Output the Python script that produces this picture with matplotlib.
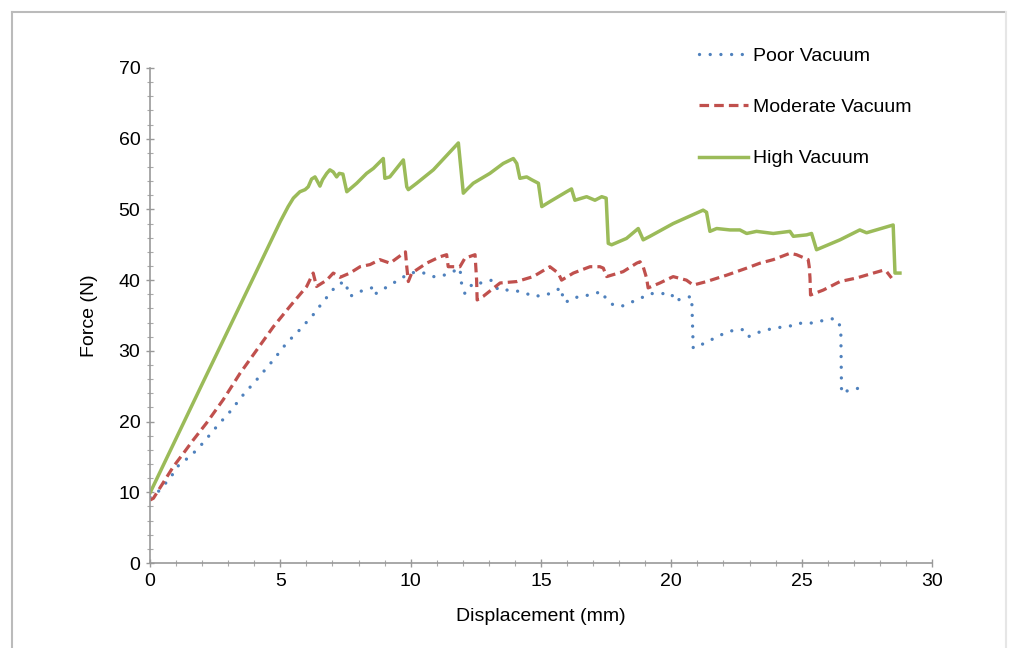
import matplotlib
matplotlib.use("Agg")
import matplotlib.pyplot as plt
from matplotlib.lines import Line2D
from matplotlib.ticker import MultipleLocator

# ---------------- data ----------------
high_x = [0, 2.0, 4.0, 5.0, 5.3, 5.5, 5.75, 5.95, 6.07, 6.2, 6.33, 6.39, 6.52, 6.62, 6.78, 6.9,
          7.03, 7.16, 7.26, 7.4, 7.55, 7.93, 8.31, 8.57, 8.95, 9.01, 9.2, 9.72, 9.85, 9.91,
          10.23, 10.87, 11.83, 12.02, 12.15, 12.4, 13.04, 13.55, 13.94, 14.07, 14.19, 14.45,
          14.64, 14.9, 15.03, 15.34, 15.98, 16.17, 16.3, 16.75, 17.07, 17.33, 17.5, 17.58,
          17.71, 18.28, 18.73, 18.92, 19.18, 20.07, 21.22, 21.35, 21.48, 21.74, 22.25, 22.63,
          22.89, 23.27, 23.91, 24.55, 24.68, 25.19, 25.38, 25.57, 26.47, 27.23, 27.49, 28.51,
          28.58, 28.77]
high_y = [9.9, 25.3, 40.6, 48.3, 50.4, 51.6, 52.5, 52.8, 53.2, 54.3, 54.6, 54.2, 53.3, 54.2, 55.1, 55.6,
          55.3, 54.6, 55.1, 55.0, 52.5, 53.7, 55.1, 55.8, 57.2, 54.4, 54.6, 57.0, 53.2, 52.8,
          53.7, 55.6, 59.4, 52.3, 52.8, 53.7, 55.1, 56.5, 57.2, 56.5, 54.4, 54.6,
          54.2, 53.7, 50.4, 51.1, 52.5, 52.9, 51.3, 51.8, 51.3, 51.8, 51.6, 45.2,
          45.0, 45.9, 47.3, 45.7, 46.2, 48.0, 49.9, 49.6, 46.9, 47.3, 47.1, 47.1,
          46.6, 46.9, 46.6, 46.9, 46.2, 46.4, 46.6, 44.3, 45.7, 47.1, 46.7, 47.8,
          41.0, 41.0]

moderate_x = [0, 0.13, 0.89, 1.28, 1.66, 2.17, 2.81, 3.45, 4.09, 4.73, 5.37, 6.01, 6.26, 6.39,
              6.78, 7.03, 7.29, 7.67, 8.06, 8.44, 8.82, 9.21, 9.8, 9.85, 9.91, 10.04, 10.61,
              11.12, 11.38, 11.44, 11.89, 12.08, 12.47, 12.53, 12.55, 12.78, 13.43, 14.07, 14.7,
              15.34, 15.66, 15.79, 16.24, 16.88, 17.26, 17.39, 17.52, 18.15, 18.67, 18.8, 18.92,
              19.05, 19.11, 19.56, 20.07, 20.58, 20.84, 21.35, 22.12, 22.89, 23.4, 23.91, 24.55,
              24.8, 25.25, 25.29, 25.32, 25.34, 25.83, 26.47, 27.1, 27.75, 28.13, 28.26, 28.45]
moderate_y = [8.9, 9.15, 13.6, 15.5, 17.4, 19.8, 23.1, 26.8, 30.1, 33.4, 36.3, 39.1, 41.0, 39.1,
              40.0, 41.0, 40.4, 41.0, 41.9, 42.2, 42.9, 42.4, 44.0, 41.9, 39.8, 41.0, 42.4,
              43.3, 43.6, 41.9, 41.9, 43.1, 43.6, 40.0, 37.2, 37.7, 39.6, 39.8, 40.5,
              41.9, 41.0, 40.0, 41.0, 41.9, 41.9, 41.7, 40.5, 41.2, 42.4, 42.6, 41.9,
              40.3, 38.9, 39.6, 40.5, 40.0, 39.3, 39.8, 40.7, 41.7, 42.4, 42.9, 43.8,
              43.6, 42.9, 41.9, 40.3, 37.9, 38.6, 39.8, 40.3, 41.0, 41.4, 41.2, 40.3]

poor_x = [0, 0.26, 0.77, 1.15, 1.53, 2.04, 2.56, 3.07, 3.58, 4.09, 4.73, 5.24, 5.75, 6.26, 6.59,
          6.9, 7.16, 7.48, 7.67, 8.06, 8.5, 8.57, 8.89, 9.21, 9.52, 9.97, 10.36, 10.87, 11.12,
          11.51, 11.89, 11.95, 12.08, 12.4, 12.78, 13.11, 13.36, 13.94, 14.45, 14.7, 15.21,
          15.47, 15.79, 15.85, 16.11, 16.43, 16.88, 17.33, 17.52, 17.77, 18.09, 18.35, 18.8,
          19.18, 20.0, 20.14, 20.39, 20.78, 20.84, 21.29, 21.86, 22.44, 22.76, 22.95, 23.33,
          23.91, 24.55, 24.8, 25.32, 25.7, 26.28, 26.5, 26.53, 26.85, 27.17]
poor_y = [9.3, 9.86, 12.0, 14.1, 15.0, 17.0, 19.3, 21.4, 23.8, 25.9, 28.7, 31.1, 33.0, 35.1, 36.7,
          38.1, 39.3, 39.8, 37.7, 38.4, 38.9, 37.9, 38.6, 39.3, 40.0, 41.0, 41.2, 40.5, 40.5,
          41.0, 41.7, 39.6, 38.1, 39.6, 39.6, 40.0, 38.6, 38.6, 38.1, 37.7, 37.9,
          38.4, 38.9, 37.0, 37.0, 37.7, 37.9, 38.4, 37.2, 36.5, 36.3, 36.7, 37.4,
          38.1, 38.1, 37.0, 37.4, 37.7, 30.4, 31.1, 32.2, 33.0, 33.0, 32.0, 32.6,
          33.2, 33.5, 33.9, 33.9, 34.2, 34.6, 33.4, 24.0, 24.5, 24.7]

series_labels = ["Poor Vacuum", "Moderate Vacuum", "High Vacuum"]
x_label = "Displacement (mm)"
y_label = "Force (N)"

# ---------------- figure ----------------
plt.rcParams['font.family'] = ['Liberation Sans', 'DejaVu Sans']
FS = 14
fig = plt.figure(figsize=(10.09, 6.48), dpi=100)
ax = fig.add_axes([150 / 1009, 1 - 563 / 648, (932 - 150) / 1009, (563 - 68) / 648])

c_poor = "#4F81BD"
c_mod = "#C0504D"
c_high = "#9BBB59"

ax.plot(poor_x, poor_y, color=c_poor, lw=2.4, linestyle=(0, (0.01, 3.2)),
        dash_capstyle='round', solid_capstyle='round', label=series_labels[0])
ax.plot(moderate_x, moderate_y, color=c_mod, lw=2.3, linestyle=(0, (3.0, 1.6)),
        dash_capstyle='butt', label=series_labels[1])
ax.plot(high_x, high_y, color=c_high, lw=2.5, linestyle='-', label=series_labels[2])

ax.set_xlim(0, 30)
ax.set_ylim(0, 70)
ax.xaxis.set_major_locator(MultipleLocator(5))
ax.xaxis.set_minor_locator(MultipleLocator(1))
ax.yaxis.set_major_locator(MultipleLocator(10))
ax.yaxis.set_minor_locator(MultipleLocator(2))

for s in ['top', 'right']:
    ax.spines[s].set_visible(False)
for s in ['left', 'bottom']:
    ax.spines[s].set_color('#999999')
    ax.spines[s].set_linewidth(1.2)

ax.tick_params(axis='both', which='major', direction='inout', length=6, width=1,
               color='#999999', labelsize=FS, labelcolor='black', pad=4)
ax.tick_params(axis='both', which='minor', direction='inout', length=4, width=0.8,
               color='#aaaaaa')
ax.set_xlabel(x_label, fontsize=FS, labelpad=13)
ax.set_ylabel(y_label, fontsize=FS, labelpad=15)

fig.legend(loc='upper left', bbox_to_anchor=(699 / 1009, 1 - 47 / 648), frameon=False,
           fontsize=FS, handlelength=2.5, handletextpad=0.27, labelspacing=1.74,
           borderpad=0, borderaxespad=0)

# outer frame
fig.add_artist(Line2D([12 / 1009, 1005 / 1009], [1 - 12 / 648, 1 - 12 / 648],
                      transform=fig.transFigure, color='#bbbbbb', lw=1.5))
fig.add_artist(Line2D([12 / 1009, 12 / 1009], [1 - 12 / 648, 0],
                      transform=fig.transFigure, color='#bbbbbb', lw=1.5))
fig.add_artist(Line2D([1006 / 1009, 1006 / 1009], [1 - 12 / 648, 0],
                      transform=fig.transFigure, color='#e6e6e6', lw=1.5))

fig.savefig("out.png", dpi=100)
